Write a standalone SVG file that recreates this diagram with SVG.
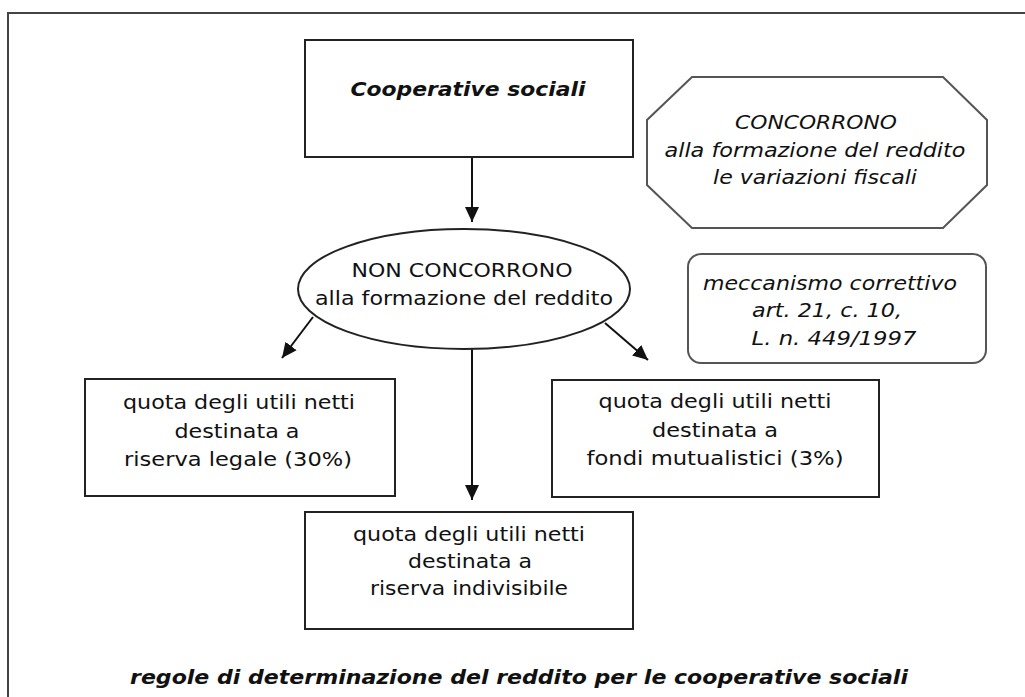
<svg xmlns="http://www.w3.org/2000/svg" width="1025" height="697" viewBox="0 0 1025 697">
<style>
.box{fill:#fff;stroke:#222;stroke-width:2}
.soft{fill:#fff;stroke:#555;stroke-width:2}
.t{font-family:"DejaVu Sans","Liberation Sans",sans-serif;font-size:19px;fill:#111;text-anchor:middle}
.i{font-style:italic}
.b{font-weight:bold;font-style:italic}
.ln{stroke:#111;stroke-width:2;fill:none}
</style>
<defs>
<marker id="ah" markerUnits="userSpaceOnUse" markerWidth="16" markerHeight="16" refX="15" refY="8" orient="auto">
<path d="M0,1 L15,8 L0,15 Z" fill="#111"/>
</marker>
</defs>
<rect x="0" y="0" width="1025" height="697" fill="#fff"/>
<rect id="frame" x="8" y="13" width="1030" height="700" fill="none" stroke="#444" stroke-width="2"/>

<g id="connectors">
<line class="ln" x1="472" y1="157" x2="472" y2="222" marker-end="url(#ah)"/>
<line class="ln" x1="313" y1="317" x2="282" y2="358" marker-end="url(#ah)"/>
<line class="ln" x1="605" y1="323" x2="648" y2="360" marker-end="url(#ah)"/>
<line class="ln" x1="472" y1="349" x2="472" y2="500" marker-end="url(#ah)"/>
</g>

<g id="n-coop">
<rect class="box" x="305" y="40" width="328" height="117"/>
<text class="t b" x="468" y="96" textLength="235" lengthAdjust="spacingAndGlyphs">Cooperative sociali</text>
</g>

<g id="n-concorrono">
<polygon class="soft" points="692,77 943,77 987,120 987,185 943,228 692,228 647,185 647,120"/>
<text class="t i" x="816" y="129" textLength="162" lengthAdjust="spacingAndGlyphs">CONCORRONO</text>
<text class="t i" x="815" y="157" textLength="301" lengthAdjust="spacingAndGlyphs">alla formazione del reddito</text>
<text class="t i" x="815" y="184" textLength="204" lengthAdjust="spacingAndGlyphs">le variazioni fiscali</text>
</g>

<g id="n-non">
<ellipse class="box" cx="464" cy="289" rx="166" ry="60"/>
<text class="t" x="462" y="277" textLength="221" lengthAdjust="spacingAndGlyphs">NON CONCORRONO</text>
<text class="t" x="464" y="305" textLength="298" lengthAdjust="spacingAndGlyphs">alla formazione del reddito</text>
</g>

<g id="n-meccanismo">
<rect class="soft" x="688" y="254" width="298" height="109" rx="13" ry="13"/>
<text class="t i" x="830" y="290" textLength="254" lengthAdjust="spacingAndGlyphs">meccanismo correttivo</text>
<text class="t i" x="827" y="317" textLength="150" lengthAdjust="spacingAndGlyphs">art. 21, c. 10,</text>
<text class="t i" x="834" y="345" textLength="165" lengthAdjust="spacingAndGlyphs">L. n. 449/1997</text>
</g>

<g id="n-legale">
<rect class="box" x="85" y="379" width="310" height="117"/>
<text class="t" x="239" y="409" textLength="232" lengthAdjust="spacingAndGlyphs">quota degli utili netti</text>
<text class="t" x="237" y="438" textLength="125" lengthAdjust="spacingAndGlyphs">destinata a</text>
<text class="t" x="238" y="466" textLength="228" lengthAdjust="spacingAndGlyphs">riserva legale (30%)</text>
</g>

<g id="n-mutual">
<rect class="box" x="552" y="380" width="327" height="117"/>
<text class="t" x="715" y="408" textLength="233" lengthAdjust="spacingAndGlyphs">quota degli utili netti</text>
<text class="t" x="715" y="437" textLength="126" lengthAdjust="spacingAndGlyphs">destinata a</text>
<text class="t" x="715" y="465" textLength="257" lengthAdjust="spacingAndGlyphs">fondi mutualistici (3%)</text>
</g>

<g id="n-indivisibile">
<rect class="box" x="305" y="512" width="328" height="117"/>
<text class="t" x="469" y="541" textLength="232" lengthAdjust="spacingAndGlyphs">quota degli utili netti</text>
<text class="t" x="470" y="568" textLength="124" lengthAdjust="spacingAndGlyphs">destinata a</text>
<text class="t" x="469" y="595" textLength="198" lengthAdjust="spacingAndGlyphs">riserva indivisibile</text>
</g>

<g id="caption">
<text class="t b" x="519" y="684" font-size="21" textLength="778" lengthAdjust="spacingAndGlyphs">regole di determinazione del reddito per le cooperative sociali</text>
</g>
</svg>
